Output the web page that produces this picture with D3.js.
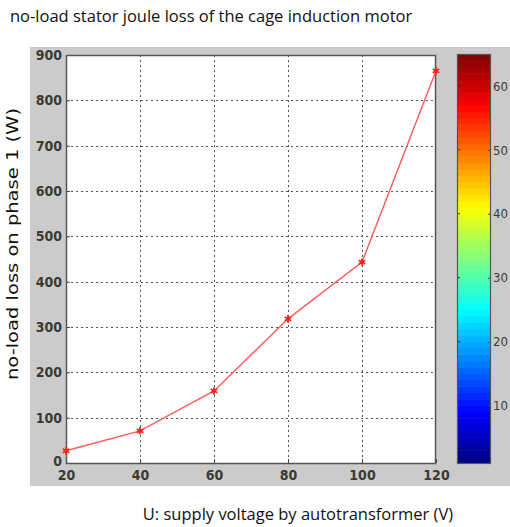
<!DOCTYPE html>
<html>
<head>
<meta charset="utf-8">
<script src="https://cdn.jsdelivr.net/npm/d3@7"></script>
<style>
  body { margin: 0; background: #fff; }
  svg { display: block; }
</style>
</head>
<body>
<div class="chart"></div>
<script>
// data
var voltages = [20, 40, 60, 80, 100, 120];
var losses = [27, 71, 159, 318, 443, 865];
var xTicks = [20, 40, 60, 80, 100, 120];
var yTicks = [0, 100, 200, 300, 400, 500, 600, 700, 800, 900];
var cbTicks = [10, 20, 30, 40, 50, 60];
var cbLevels = d3.range(1, 65); // 64 jet colours

var W = 510, H = 527;
var plot = { left: 66, right: 436, top: 55, bottom: 463 };
var cbar = { left: 457, right: 491, top: 54, bottom: 463 };

var svg = d3.select('.chart')
    .append('svg')
    .attr('width', W)
    .attr('height', H);

// gray figure background
svg.append('rect')
    .attr('x', 30).attr('y', 47)
    .attr('width', W - 30).attr('height', 486 - 47)
    .attr('fill', '#cbcbcb');

var xScale = d3.scaleLinear().domain([20, 120]).range([plot.left, plot.right]);
var yScale = d3.scaleLinear().domain([0, 900]).range([plot.bottom, plot.top]);

// white axes area
svg.append('rect')
    .attr('x', plot.left).attr('y', plot.top)
    .attr('width', plot.right - plot.left).attr('height', plot.bottom - plot.top)
    .attr('fill', '#fff');

// dotted grid
var grid = svg.append('g').attr('stroke', '#555').attr('stroke-width', 1).attr('stroke-dasharray', '2,3');
grid.selectAll('.gx')
    .data(xTicks.slice(1, -1))
    .enter().append('line')
    .attr('x1', d => xScale(d) + 0.5).attr('x2', d => xScale(d) + 0.5)
    .attr('y1', plot.top).attr('y2', plot.bottom);
grid.selectAll('.gy')
    .data(yTicks.slice(1, -1))
    .enter().append('line')
    .attr('y1', d => Math.round(yScale(d)) + 0.5).attr('y2', d => Math.round(yScale(d)) + 0.5)
    .attr('x1', plot.left).attr('x2', plot.right);

// axes with inward ticks (MATLAB style)
var tickFont = '"DejaVu Sans Condensed", "Liberation Sans Narrow", "Liberation Sans", sans-serif';
function styleTicks(ax, size, weight) {
    ax.select('.domain').remove();
    ax.selectAll('line').attr('stroke', '#444');
    ax.selectAll('text')
        .style('font-family', tickFont)
        .style('font-size', size)
        .style('font-weight', weight)
        .attr('fill', '#3a3a32');
}
var xAxis = svg.append('g')
    .attr('transform', 'translate(0,' + plot.bottom + ')')
    .call(d3.axisBottom(xScale).tickValues(xTicks).tickSize(-4).tickPadding(7));
var yAxis = svg.append('g')
    .attr('transform', 'translate(' + plot.left + ',0)')
    .call(d3.axisLeft(yScale).tickValues(yTicks).tickSize(-4).tickPadding(4));
styleTicks(xAxis, '14px', 'bold');
styleTicks(yAxis, '14px', 'bold');
yAxis.selectAll('text').filter(d => d === 0).attr('dy', '0.15em');

// box
svg.append('rect')
    .attr('x', plot.left + 0.5).attr('y', plot.top + 0.5)
    .attr('width', plot.right - plot.left - 1).attr('height', plot.bottom - plot.top)
    .attr('fill', 'none').attr('stroke', '#555').attr('stroke-width', 1.5);

// data line
var line = d3.line()
    .x((d, i) => xScale(voltages[i]))
    .y(d => yScale(d));
svg.append('path')
    .datum(losses)
    .attr('d', line)
    .attr('fill', 'none')
    .attr('stroke', '#ff5a5a')
    .attr('stroke-width', 1.4);

svg.selectAll('.marker')
    .data(losses)
    .enter().append('path')
    .attr('transform', (d, i) => 'translate(' + xScale(voltages[i]) + ',' + yScale(d) + ')')
    .attr('d', d3.symbol().type(d3.symbolAsterisk).size(40))
    .attr('fill', 'none')
    .attr('stroke', '#ff2020')
    .attr('stroke-width', 1.8);

// jet colorbar
function jet(t) {
    var c = v => Math.round(255 * Math.max(0, Math.min(1, v)));
    return d3.rgb(c(1.5 - Math.abs(4 * t - 3)), c(1.5 - Math.abs(4 * t - 2)), c(1.5 - Math.abs(4 * t - 1)));
}
var cScale = d3.scaleLinear().domain([1, 65]).range([cbar.bottom, cbar.top]);
svg.selectAll('.cb')
    .data(cbLevels)
    .enter().append('rect')
    .attr('x', cbar.left)
    .attr('width', cbar.right - cbar.left)
    .attr('y', d => cScale(d + 1))
    .attr('height', d => cScale(d) - cScale(d + 1) + 0.5)
    .attr('fill', d => jet((d - 0.5) / 64));

var cAxis = svg.append('g')
    .attr('transform', 'translate(' + cbar.right + ',0)')
    .call(d3.axisRight(cScale).tickValues(cbTicks).tickSize(-3).tickPadding(2));
styleTicks(cAxis, '13px', 'normal');
svg.selectAll('.cbl')
    .data(cbTicks)
    .enter().append('line')
    .attr('x1', cbar.left).attr('x2', cbar.left + 3)
    .attr('y1', d => cScale(d)).attr('y2', d => cScale(d))
    .attr('stroke', '#333');
svg.append('rect')
    .attr('x', cbar.left + 0.5).attr('y', cbar.top + 0.5)
    .attr('width', cbar.right - cbar.left - 1).attr('height', cbar.bottom - cbar.top)
    .attr('fill', 'none').attr('stroke', '#555').attr('stroke-width', 1.2);

// texts
var labelFont = '"Open Sans", "Noto Sans", sans-serif';
svg.append('text')
    .attr('x', 10).attr('y', 22)
    .style('font-family', labelFont)
    .style('font-size', '16.5px')
    .attr('fill', '#111')
    .text('no-load stator joule loss of the cage induction motor');

svg.append('text')
    .attr('x', 298).attr('y', 520)
    .attr('text-anchor', 'middle')
    .style('font-family', labelFont)
    .style('font-size', '16.5px')
    .attr('fill', '#111')
    .text('U: supply voltage by autotransformer (V)');

svg.append('text')
    .attr('transform', 'translate(18,244) rotate(-90)')
    .attr('text-anchor', 'middle')
    .attr('textLength', 272)
    .attr('lengthAdjust', 'spacingAndGlyphs')
    .style('font-family', '"DejaVu Sans", sans-serif')
    .style('font-size', '16px')
    .attr('fill', '#111')
    .text('no-load loss on phase 1 (W)');
</script>
</body>
</html>
